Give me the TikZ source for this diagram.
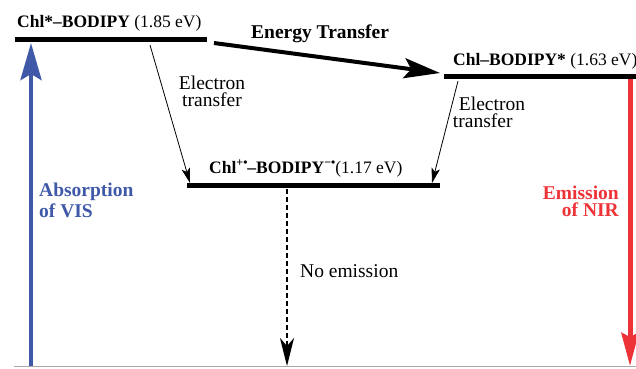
\documentclass[tikz,border=0pt]{standalone}
\usepackage{fontspec}
\setmainfont{Liberation Serif}
\usetikzlibrary{arrows.meta}
\definecolor{visblue}{HTML}{3F59A8}
\definecolor{nirred}{HTML}{EE3338}
\definecolor{basegray}{HTML}{A8A8A8}
\newcommand{\supr}[1]{\raisebox{6.5pt}{\fontsize{12}{12}\selectfont #1}}
\begin{document}
\begin{tikzpicture}[x=1pt,y=-1pt,
  level/.style={line width=5pt},
  lvllabel/.style={inner sep=0pt, anchor=base west, font=\fontsize{17.5}{18}\selectfont},
  lbl/.style={inner sep=0pt, align=center, font=\fontsize{19.5}{17}\selectfont},
  etarrow/.style={line width=0.8pt, -{Stealth[length=15pt,width=8.5pt,inset=3.5pt]}},
]
\useasboundingbox (0,0) rectangle (636,368);
% baseline
\coordinate (bl1) at (14,366);
\coordinate (bl2) at (636,366);
\draw[basegray, line width=1pt] (bl1) -- (bl2);
% levels
\coordinate (s1a) at (15,39.5);  \coordinate (s1b) at (207,39.5);
\coordinate (s2a) at (444,76.5); \coordinate (s2b) at (636,76.5);
\coordinate (s3a) at (187,185.5); \coordinate (s3b) at (440,185.5);
\draw[level] (s1a) -- (s1b);
\draw[level] (s2a) -- (s2b);
\draw[level] (s3a) -- (s3b);
% level labels
\node[lvllabel] (l1) at (17,27) {\textbf{Chl*–BODIPY} (1.85 eV)};
\node[lvllabel] (l2) at (453,65) {\textbf{Chl–BODIPY*} (1.63 eV)};
\node[lvllabel] (l3) at (209,173) {\textbf{Chl\supr{+\textbullet}–BODIPY\supr{−\textbullet}}(1.17 eV)};
% energy transfer
\coordinate (et1) at (214,43);
\coordinate (et2) at (440,73);
\draw[line width=4pt, -{Stealth[length=36pt,width=20pt,inset=7pt]}] (et1) -- (et2);
\node[lbl, anchor=base west] (etl) at (251,38) {\textbf{Energy Transfer}};
% electron transfer
\coordinate (eL1) at (150,45);  \coordinate (eL2) at (190,183);
\coordinate (eR1) at (458,81);  \coordinate (eR2) at (432,183);
\draw[etarrow] (eL1) -- (eL2);
\draw[etarrow] (eR1) -- (eR2);
\node[lbl, anchor=base] (eLl) at (212,106) {Electron\\transfer};
\node[lbl, anchor=base, align=left] (eRl) at (489,127) {\hspace*{6pt}Electron\\transfer};
% no emission
\coordinate (ne1) at (287,189);
\coordinate (ne2) at (287,366);
\draw[line width=2pt, dash pattern=on 5pt off 3pt, -{Stealth[length=28pt,width=14pt,inset=8pt]}] (ne1) -- (ne2);
\node[lbl, anchor=base west] (nel) at (300,277) {No emission};
% absorption
\coordinate (ab1) at (31,366);
\coordinate (ab2) at (31,43);
\draw[visblue, line width=4.5pt, -{Stealth[length=37pt,width=21pt,inset=6pt]}] (ab1) -- (ab2);
\node[lbl, anchor=base west, align=left, text=visblue, font=\fontsize{19.5}{21}\selectfont\bfseries] (abl) at (39,217) {Absorption\\of VIS};
% emission
\coordinate (em1) at (630,79);
\coordinate (em2) at (630,366);
\draw[nirred, line width=5pt, -{Stealth[length=33pt,width=17pt,inset=4pt]}] (em1) -- (em2);
\node[lbl, anchor=base east, align=right, text=nirred, font=\fontsize{19.5}{17}\selectfont\bfseries] (eml) at (619,216) {Emission\\of NIR};
\end{tikzpicture}
\end{document}
